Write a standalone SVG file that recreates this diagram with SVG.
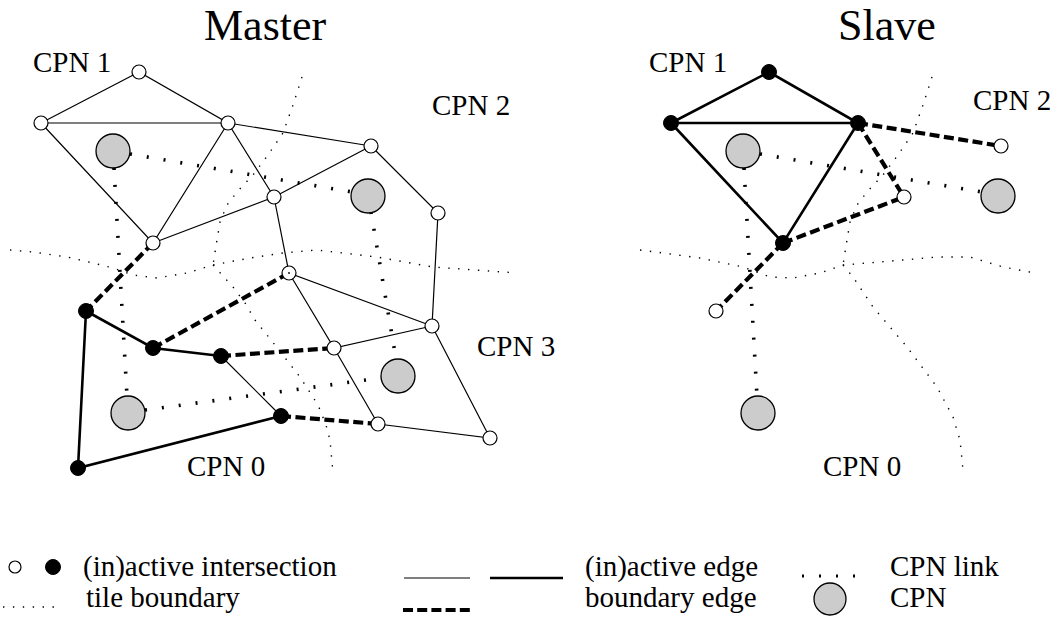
<svg xmlns="http://www.w3.org/2000/svg" width="1053" height="621" viewBox="0 0 1053 621">
<style>
text{font-family:"Liberation Serif","Times New Roman",serif;fill:#000}
.title{font-size:44px}
.lbl{font-size:29px}
.tile{fill:none;stroke:#000;stroke-width:1.4;stroke-dasharray:1.4 8.5}
.e{stroke:#000;stroke-width:1.2;fill:none}
.a{stroke:#000;stroke-width:2.6;fill:none}
.b{stroke:#000;stroke-width:4.2;stroke-dasharray:10 4.5;fill:none}
.l{stroke:#000;stroke-width:3.6;stroke-dasharray:2 15;fill:none}
.on{fill:#fff;stroke:#000;stroke-width:1.2}
.fn{fill:#000;stroke:#000;stroke-width:1}
.cpn{fill:#cccccc;stroke:#000;stroke-width:1.3}
</style>
<g id="titles">
<text class="title" x="204" y="40">Master</text>
<text class="title" x="838" y="40">Slave</text>
</g>
<g id="tiles">
<path class="tile" d="M10,250 L33,252 L67,257 L93,263 L113,268 L133,275 L157,278 L187,273 L213,265 L250,258 L283,253 L317,250 L377,257 L433,267 L517,273"/>
<path class="tile" d="M302,77 L293,105 L283,133 L268,155 L253,175 L237,192 L227,205 L220,222 L217,240 L213,265"/>
<path class="tile" d="M213,265 L233,287 L245,303 L255,320 L275,345 L300,377 L318,405 L326,425 L330,440 L333,473"/>
<path class="tile" d="M640,250 L663,253 L700,258 L743,267 L770,277 L793,278 L820,273 L843,265 L880,262 L937,257 L970,257 L1003,267 L1035,273"/>
<path class="tile" d="M932,77 L923,105 L913,133 L898,155 L883,175 L867,192 L857,205 L850,222 L847,240 L843,265"/>
<path class="tile" d="M843,265 L853,277 L863,292 L873,307 L907,347 L937,387 L953,417 L960,440 L963,470"/>
</g>
<g id="connectors">
<!-- master CPN links -->
<path class="l" d="M130,154 L352,192"/>
<path class="l" d="M114,168 L127,396"/>
<path class="l" d="M145,410 L381,378"/>
<path class="l" d="M371,212 L396,359"/>
<!-- master inactive edges -->
<path class="e" d="M139,72 L41,123 L228,123 Z M41,123 L153,243 L228,123 M153,243 L274,197 M228,123 L274,197 M228,123 L371,146 M371,146 L274,197 M371,146 L438,213 L432,326 M274,197 L289,273 L432,326 M289,273 L334,348 L432,326 M334,348 L378,424 L490,438 L432,326 M221,356 L281,416"/>
<!-- master active edges -->
<path class="a" d="M86,311 L153,348 L221,356 M86,311 L78,468 L281,416"/>
<!-- master boundary edges -->
<path class="b" d="M153,243 L86,311 M153,348 L289,273 M221,356 L334,348 M281,416 L378,424"/>
<!-- slave CPN links -->
<path class="l" d="M760,154 L982,192"/>
<path class="l" d="M744,168 L757,396"/>
<!-- slave active edges -->
<path class="a" d="M769,72 L671,123 L858,123 Z M671,123 L783,243 L858,123"/>
<!-- slave boundary edges -->
<path class="b" d="M858,123 L1001,146 M858,123 L904,197 M783,243 L904,197 M783,243 L716,311"/>
</g>
<g id="master-cpns">
<circle id="m-cpn1" class="cpn" cx="113" cy="151" r="17"/>
<circle id="m-cpn2" class="cpn" cx="368" cy="196" r="17"/>
<circle id="m-cpn0" class="cpn" cx="128" cy="413" r="17"/>
<circle id="m-cpn3" class="cpn" cx="398" cy="376" r="17"/>
</g>
<g id="master-nodes">
<circle id="mA" class="on" cx="139" cy="72" r="7"/>
<circle id="mB" class="on" cx="41" cy="123" r="7"/>
<circle id="mC" class="on" cx="228" cy="123" r="7"/>
<circle id="mD" class="on" cx="153" cy="243" r="7"/>
<circle id="mE" class="on" cx="371" cy="146" r="7"/>
<circle id="mF" class="on" cx="274" cy="197" r="7"/>
<circle id="mG" class="on" cx="438" cy="213" r="7"/>
<circle id="mH" class="on" cx="289" cy="273" r="7"/>
<circle cx="289" cy="273" r="0.9" fill="#000"/>
<circle id="mI" class="on" cx="432" cy="326" r="7"/>
<circle id="mJ" class="on" cx="334" cy="348" r="7"/>
<circle id="mK" class="on" cx="378" cy="424" r="7"/>
<circle id="mL" class="on" cx="490" cy="438" r="7"/>
<circle id="mM" class="fn" cx="86" cy="311" r="7.5"/>
<circle id="mN" class="fn" cx="153" cy="348" r="7.5"/>
<circle id="mO" class="fn" cx="221" cy="356" r="7.5"/>
<circle id="mP" class="fn" cx="281" cy="416" r="7.5"/>
<circle id="mQ" class="fn" cx="78" cy="468" r="7.5"/>
</g>
<g id="slave-cpns">
<circle id="s-cpn1" class="cpn" cx="743" cy="151" r="17"/>
<circle id="s-cpn2" class="cpn" cx="998" cy="196" r="17"/>
<circle id="s-cpn0" class="cpn" cx="758" cy="413" r="17"/>
</g>
<g id="slave-nodes">
<circle id="sA" class="fn" cx="769" cy="72" r="7.5"/>
<circle id="sB" class="fn" cx="671" cy="123" r="7.5"/>
<circle id="sC" class="fn" cx="858" cy="123" r="7.5"/>
<circle id="sD" class="fn" cx="783" cy="243" r="7.5"/>
<circle id="sE" class="on" cx="1001" cy="146" r="7"/>
<circle id="sF" class="on" cx="904" cy="197" r="7"/>
<circle id="sG" class="on" cx="716" cy="311" r="7"/>
</g>
<g id="labels">
<text class="lbl" x="33" y="72">CPN 1</text>
<text class="lbl" x="432" y="115">CPN 2</text>
<text class="lbl" x="477" y="356">CPN 3</text>
<text class="lbl" x="187" y="476">CPN 0</text>
<text class="lbl" x="649" y="72">CPN 1</text>
<text class="lbl" x="973" y="110">CPN 2</text>
<text class="lbl" x="823" y="476">CPN 0</text>
</g>
<g id="legend">
<circle class="on" cx="15" cy="567" r="6"/>
<circle class="fn" cx="53" cy="567" r="7.5"/>
<text class="lbl" x="83" y="576">(in)active intersection</text>
<path class="tile" d="M3,607 L58,607"/>
<text class="lbl" x="86" y="607">tile boundary</text>
<path class="e" d="M404,578 L470,578"/>
<path class="a" d="M490,578 L563,578"/>
<path class="b" d="M403,610 L470,610" style="stroke-dasharray:10 4.2"/>
<text class="lbl" x="585" y="576">(in)active edge</text>
<text class="lbl" x="585" y="607">boundary edge</text>
<path class="l" d="M802,576 L856,576" style="stroke-width:3"/>
<text class="lbl" x="890" y="576">CPN link</text>
<circle class="cpn" cx="830" cy="599" r="16"/>
<text class="lbl" x="890" y="607">CPN</text>
</g>
</svg>
